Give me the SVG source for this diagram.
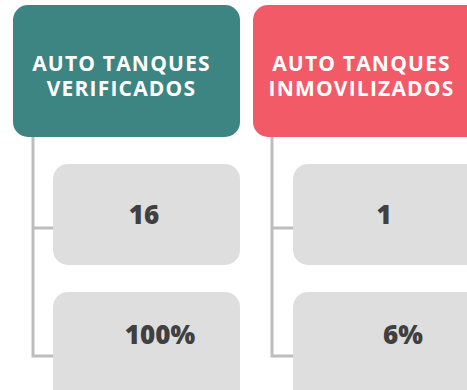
<svg xmlns="http://www.w3.org/2000/svg" width="467" height="390" viewBox="0 0 467 390">
<style>
.hd{font-family:"Open Sans","Liberation Sans",sans-serif;font-weight:700;font-size:21px;letter-spacing:1.2px;fill:#ffffff;text-anchor:middle}
.val{font-family:"Open Sans","Liberation Sans",sans-serif;font-weight:800;font-size:26px;fill:#404040;text-anchor:middle}
.box{fill:#dedede}
.ln{fill:none;stroke:#bdbdbd;stroke-width:3}
</style>
<rect width="467" height="390" fill="#ffffff"/>
<g id="connectors">
<path class="ln" d="M33 137 V356 H54 M33 228 H54"/>
<path class="ln" d="M272 137 V356 H294 M272 228 H294"/>
</g>
<g id="h1"><rect x="13" y="5" width="227" height="132" rx="15" fill="#3d8582"/>
<text class="hd" x="121.5" y="71">AUTO TANQUES</text><text class="hd" x="121.5" y="96">VERIFICADOS</text></g>
<g id="h2"><rect x="253" y="5" width="230" height="132" rx="15" fill="#f25a68"/>
<text class="hd" x="361.5" y="71">AUTO TANQUES</text><text class="hd" x="361.5" y="96">INMOVILIZADOS</text></g>
<g id="v1"><rect class="box" x="53" y="164" width="187" height="101" rx="15"/><text class="val" x="144" y="224">16</text></g>
<g id="v2"><rect class="box" x="53" y="292" width="187" height="120" rx="15"/><text class="val" x="160" y="344">100%</text></g>
<g id="v3"><rect class="box" x="293" y="164" width="190" height="101" rx="15"/><text class="val" x="384" y="224">1</text></g>
<g id="v4"><rect class="box" x="293" y="292" width="190" height="120" rx="15"/><text class="val" x="403" y="344">6%</text></g>
</svg>
